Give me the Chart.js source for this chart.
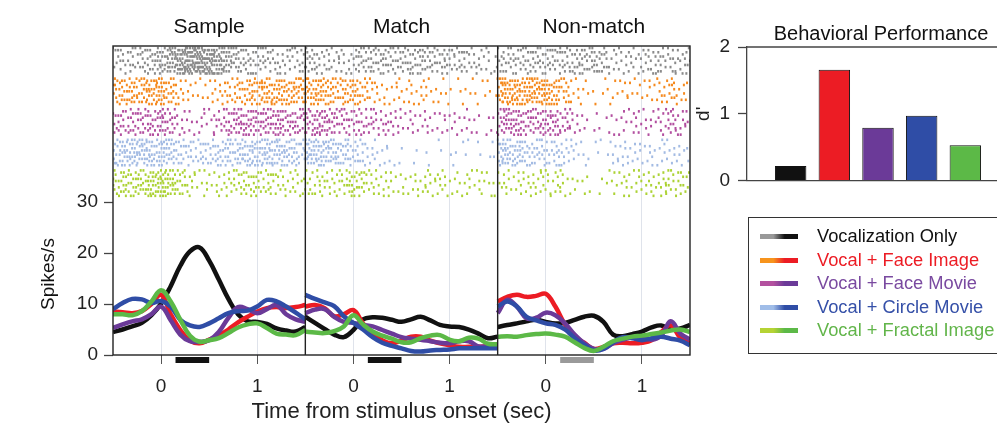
<!DOCTYPE html>
<html>
<head>
<meta charset="utf-8">
<script src="https://cdn.jsdelivr.net/npm/chart.js@4.4.1/dist/chart.umd.min.js"></script>
<style>
  html, body { margin: 0; padding: 0; background: #fff; }
  body { width: 997px; height: 428px; overflow: hidden; position: relative; font-family: "Liberation Sans", Arial, sans-serif; }
  #psth { position: absolute; left: 0; top: 0; }
  #dprime { position: absolute; left: 690px; top: 0; }
  #legend { position: absolute; left: 748px; top: 217px; width: 270px; height: 135px; border: 1.5px solid #333; }
  .row { position: absolute; left: 0; height: 22px; width: 100%; }
  .sw { position: absolute; left: 11px; top: 9px; width: 38px; height: 5px; }
  .lab { position: absolute; left: 68px; top: 0; font-size: 18.3px; line-height: 22px; white-space: nowrap; }
</style>
</head>
<body>
<canvas id="psth" width="700" height="428"></canvas>
<canvas id="dprime" width="340" height="200"></canvas>
<div id="legend"></div>
<script>
// time axis of each epoch (s from stimulus onset)
const times = [-0.5, -0.4, -0.3, -0.2, -0.1, 0, 0.1, 0.2, 0.3, 0.4, 0.5, 0.6, 0.7, 0.8, 0.9, 1.0, 1.1, 1.2, 1.3, 1.4, 1.5];
const epochs = ["Sample", "Match", "Non-match"];
const conditions = ["Vocalization Only", "Vocal + Face Image", "Vocal + Face Movie", "Vocal + Circle Movie", "Vocal + Fractal Image"];

// firing rate, spikes/s
const sampleVoc     = [4.5, 5.0, 5.6, 6.3, 7.8, 10.1, 13.5, 17.5, 20.3, 21.1, 18.5, 14.8, 11.0, 8.0, 6.6, 6.5, 6.1, 5.2, 4.8, 4.6, 5.5];
const sampleFaceImg = [8.5, 8.4, 8.2, 8.6, 10.0, 11.8, 8.0, 4.9, 2.8, 2.3, 3.0, 3.8, 5.0, 6.4, 7.5, 8.5, 9.2, 9.4, 9.2, 9.4, 9.8];
const sampleFaceMov = [5.3, 6.0, 6.6, 7.0, 8.0, 9.5, 6.8, 4.0, 2.7, 2.6, 2.9, 4.5, 7.3, 9.4, 9.0, 8.2, 9.0, 9.8, 8.0, 7.0, 6.5];
const sampleCircle  = [9.0, 10.2, 11.0, 10.9, 10.2, 10.6, 9.5, 6.9, 5.8, 5.5, 6.2, 7.2, 8.2, 8.6, 8.7, 9.5, 10.8, 10.5, 9.5, 8.3, 7.0];
const sampleFractal = [8.0, 8.0, 7.8, 8.6, 10.5, 12.7, 10.5, 6.9, 3.8, 2.6, 2.9, 3.3, 4.3, 5.4, 6.0, 6.2, 5.3, 4.2, 4.0, 3.9, 4.9];

const matchVoc      = [7.5, 6.3, 5.1, 4.0, 3.5, 4.9, 7.0, 7.4, 7.3, 6.9, 6.5, 7.0, 7.5, 6.8, 5.9, 5.6, 5.5, 5.0, 4.2, 3.3, 3.6];
const matchFaceImg  = [9.5, 9.8, 9.2, 7.6, 8.0, 8.8, 6.2, 4.2, 2.9, 2.3, 2.8, 3.6, 3.6, 2.8, 2.3, 1.9, 1.6, 1.6, 1.6, 1.7, 2.0];
const matchFaceMov  = [8.2, 8.9, 9.0, 7.5, 6.5, 6.3, 5.9, 5.6, 4.9, 4.2, 3.5, 3.2, 3.0, 2.7, 2.4, 2.3, 2.7, 2.7, 1.7, 1.7, 1.8];
const matchCircle   = [11.8, 11.0, 10.3, 9.6, 7.6, 6.3, 5.0, 3.5, 2.4, 1.8, 1.3, 0.8, 0.7, 0.9, 1.0, 1.1, 1.3, 1.3, 1.3, 1.3, 1.3];
const matchFractal  = [4.6, 4.4, 4.3, 4.7, 5.6, 7.8, 6.0, 4.6, 3.8, 3.2, 2.5, 2.5, 3.3, 3.8, 3.9, 3.0, 2.7, 3.4, 3.2, 2.2, 2.1];

const nonVoc        = [5.5, 5.9, 6.2, 6.6, 6.9, 6.5, 6.2, 6.3, 6.9, 7.5, 7.7, 6.5, 4.0, 3.7, 4.1, 4.6, 5.4, 5.8, 5.0, 5.2, 5.9];
const nonFaceImg    = [10.5, 11.4, 11.8, 11.4, 11.6, 12.0, 9.5, 6.0, 3.6, 2.4, 1.2, 1.6, 2.3, 2.4, 2.3, 2.4, 2.9, 4.5, 5.8, 3.4, 2.3];
const nonFaceMov    = [8.2, 10.8, 9.5, 7.2, 7.3, 8.3, 7.8, 6.2, 4.0, 2.3, 1.2, 1.2, 2.3, 3.0, 3.5, 3.5, 3.0, 3.8, 6.6, 4.2, 3.0];
const nonCircle     = [9.5, 10.5, 9.5, 7.5, 6.8, 6.2, 5.9, 5.0, 3.3, 2.0, 0.9, 1.2, 2.5, 3.5, 3.3, 2.9, 3.3, 3.6, 3.2, 2.8, 1.9];
const nonFractal    = [3.6, 3.7, 3.6, 3.9, 4.1, 4.2, 4.0, 3.6, 2.5, 1.4, 0.8, 1.6, 2.7, 3.2, 3.6, 3.8, 4.1, 4.4, 4.8, 5.0, 4.5];

// behavioral d'
const dprime = [0.22, 1.66, 0.79, 0.97, 0.53];

const rateTicks = [0, 10, 20, 30];
const timeTicks = [0, 1];
const dprimeTicks = [0, 1, 2];
const stimWindow = [0.15, 0.5];

const psth = [
  [sampleVoc, sampleFaceImg, sampleFaceMov, sampleCircle, sampleFractal],
  [matchVoc, matchFaceImg, matchFaceMov, matchCircle, matchFractal],
  [nonVoc, nonFaceImg, nonFaceMov, nonCircle, nonFractal],
];

const FONT = '"Liberation Sans", Arial, sans-serif';
Chart.defaults.font.family = FONT;
Chart.defaults.color = '#222';

const lineColors = ['#111111', '#ec1c24', '#6b3a98', '#2f4da6', '#5cb947'];
const lightColors = ['#999999', '#f7941d', '#b3519f', '#a0bde8', '#b5d334'];
const rasterColors = ['#8a8a8a', '#f58a1f', '#b24e9f', '#a3bbe3', '#acd234'];
const textColors = ['#111111', '#ec1c24', '#7a4aa0', '#3550a8', '#62b54a'];
const stimColors = ['#111111', '#111111', '#9a9a9a'];

// raster: dots per bin follow the rate of that condition, laid out over trial rows
const RASTER_TOP = 60.2, BAND = 6, ROWS = 13, DOTS_PER_RATE = 1.8;
function rasterPoints(p, c) {
  const pts = [];
  const rates = psth[p][c];
  times.forEach((t, i) => {
    const lo = Math.max(t - 0.05, -0.5), hi = Math.min(t + 0.05, 1.5);
    const n = Math.round(rates[i] * DOTS_PER_RATE * (hi - lo) / 0.1);
    for (let k = 0; k < n; k++) {
      const fx = (k * 0.7548777 + i * 0.271 + c * 0.137 + p * 0.411) % 1;
      const fy = (k * 0.5698403 + i * 0.529 + c * 0.293 + p * 0.173) % 1;
      pts.push({
        x: 2 * p + lo + fx * (hi - lo),
        y: RASTER_TOP - c * BAND - Math.floor(fy * ROWS) * (BAND - 0.6) / ROWS,
      });
    }
  });
  return pts;
}

const datasets = [];
epochs.forEach((e, p) => {
  conditions.forEach((name, c) => {
    datasets.push({
      label: name + ' raster',
      data: rasterPoints(p, c),
      showLine: false,
      pointStyle: 'line',
      rotation: 90,
      pointRadius: 1.3,
      borderWidth: 2,
      borderColor: rasterColors[c],
      order: 10,
    });
    datasets.push({
      label: name,
      data: times.map((t, i) => ({ x: 2 * p + t, y: psth[p][c][i] })),
      showLine: true,
      borderColor: lineColors[c],
      borderWidth: 4.5,
      tension: 0.4,
      pointRadius: 0,
      order: 4 - c,
    });
  });
});

const psthDecor = {
  id: 'psthDecor',
  afterDatasetsDraw(chart) {
    const { ctx, chartArea: a, scales: { x } } = chart;
    ctx.save();
    epochs.forEach((e, p) => {
      const x0 = x.getPixelForValue(2 * p + stimWindow[0]);
      const x1 = x.getPixelForValue(2 * p + stimWindow[1]);
      ctx.fillStyle = stimColors[p];
      ctx.fillRect(x0, a.bottom + 2, x1 - x0, 6);
    });
    ctx.strokeStyle = '#222';
    ctx.lineWidth = 1.4;
    ctx.strokeRect(a.left, a.top, a.right - a.left, a.bottom - a.top);
    [1.5, 3.5].forEach(v => {
      const px = x.getPixelForValue(v);
      ctx.beginPath();
      ctx.moveTo(px, a.top);
      ctx.lineTo(px, a.bottom);
      ctx.stroke();
    });
    ctx.fillStyle = '#111';
    ctx.font = '21px ' + FONT;
    ctx.textAlign = 'center';
    ctx.textBaseline = 'alphabetic';
    epochs.forEach((e, p) => ctx.fillText(e, x.getPixelForValue(2 * p + 0.5), a.top - 13.5));
    ctx.translate(49, 274);
    ctx.rotate(-Math.PI / 2);
    ctx.font = '19px ' + FONT;
    ctx.textBaseline = 'middle';
    ctx.fillText('Spikes/s', 0, 0);
    ctx.restore();
  },
};

new Chart(document.getElementById('psth').getContext('2d'), {
  type: 'scatter',
  data: { datasets },
  options: {
    responsive: false,
    animation: false,
    events: [],
    layout: { padding: { top: 46, right: 10, left: 0, bottom: 0 } },
    plugins: { legend: { display: false }, tooltip: { enabled: false } },
    scales: {
      x: {
        type: 'linear',
        min: -0.5,
        max: 5.5,
        afterBuildTicks: s => { s.ticks = epochs.flatMap((e, p) => timeTicks.map(t => ({ value: 2 * p + t }))); },
        afterFit: s => { s.height = 73; },
        ticks: {
          maxRotation: 0,
          autoSkip: false,
          padding: 11,
          font: { size: 19 },
          color: '#222',
          callback: v => String(v - 2 * Math.round((v - 0.5) / 2)),
        },
        grid: { color: '#dfe3eb', lineWidth: 1, tickColor: '#555', tickLength: 9 },
        border: { display: false },
        title: { display: true, text: 'Time from stimulus onset (sec)', font: { size: 22 }, color: '#222', padding: { top: 0, bottom: 3 } },
      },
      y: {
        min: 0,
        max: 60.6,
        afterBuildTicks: s => { s.ticks = rateTicks.map(v => ({ value: v })); },
        afterFit: s => { s.width = 113; },
        ticks: { font: { size: 19 }, color: '#222', padding: 6 },
        grid: { drawOnChartArea: false, tickLength: 9, tickColor: '#444', tickWidth: 1.3 },
        border: { display: false },
      },
    },
  },
  plugins: [psthDecor],
});

const barDecor = {
  id: 'barDecor',
  afterDraw(chart) {
    const { ctx, chartArea: a } = chart;
    ctx.save();
    ctx.strokeStyle = '#444';
    ctx.lineWidth = 1.3;
    ctx.beginPath();
    ctx.moveTo(a.left, a.top);
    ctx.lineTo(a.right, a.top);
    ctx.stroke();
    ctx.fillStyle = '#111';
    ctx.font = '20px ' + FONT;
    ctx.textAlign = 'center';
    ctx.fillText('Behavioral Performance', (a.left + a.right) / 2 + 3, 39.5);
    ctx.restore();
  },
};

new Chart(document.getElementById('dprime').getContext('2d'), {
  type: 'bar',
  data: {
    labels: ['', ...conditions, ''],
    datasets: [{
      data: [null, ...dprime, null],
      backgroundColor: ['transparent', ...lineColors, 'transparent'],
      borderColor: '#111',
      borderWidth: 1,
      barPercentage: 0.72,
      categoryPercentage: 1,
    }],
  },
  options: {
    responsive: false,
    animation: false,
    events: [],
    layout: { padding: { top: 47, right: 21, left: 0, bottom: 0 } },
    plugins: { legend: { display: false }, tooltip: { enabled: false } },
    scales: {
      x: {
        offset: false,
        ticks: { display: false },
        grid: { display: false },
        border: { display: true, color: '#444', width: 1.3 },
        afterFit: s => { s.height = 16; },
      },
      y: {
        min: 0,
        max: 2,
        afterBuildTicks: s => { s.ticks = dprimeTicks.map(v => ({ value: v })); },
        afterFit: s => { s.width = 57; },
        ticks: { font: { size: 19 }, color: '#222', padding: 8 },
        grid: { drawOnChartArea: false, tickLength: 9, tickColor: '#444', tickWidth: 1.3 },
        border: { display: true, color: '#444', width: 1.3 },
        title: { display: true, text: "d'", font: { size: 19 }, color: '#222', padding: { top: 2, bottom: 0 } },
      },
    },
  },
  plugins: [barDecor],
});

// legend
const legend = document.getElementById('legend');
conditions.forEach((name, c) => {
  const row = document.createElement('div');
  row.className = 'row';
  row.style.top = (7 + c * 23.5) + 'px';
  const sw = document.createElement('div');
  sw.className = 'sw';
  sw.style.background = `linear-gradient(to right, ${lightColors[c]} 0%, ${lightColors[c]} 35%, ${lineColors[c]} 65%, ${lineColors[c]} 100%)`;
  const lab = document.createElement('div');
  lab.className = 'lab';
  lab.style.color = textColors[c];
  lab.textContent = name;
  row.appendChild(sw);
  row.appendChild(lab);
  legend.appendChild(row);
});
</script>
</body>
</html>
